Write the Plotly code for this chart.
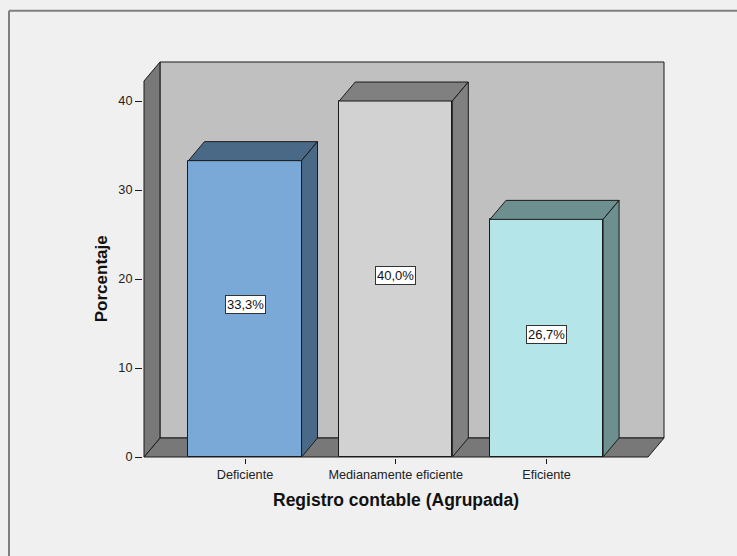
import plotly.graph_objects as go

# Data
categories = ["Deficiente", "Medianamente eficiente", "Eficiente"]
percentages = [33.3, 40.0, 26.7]
value_labels = ["33,3%", "40,0%", "26,7%"]
y_ticks = [0, 10, 20, 30, 40]

# Styling
front_colors = ["#7BA9D7", "#D2D2D2", "#B4E5E8"]
shade_colors = ["#4A6986", "#808080", "#6E8F8F"]
BG = "#F0F0F0"
WALL_BACK = "#C0C0C0"
WALL_DARK = "#787878"
EDGE = "#1A1A1A"
FONT = "Liberation Sans, Arial, sans-serif"

# Pseudo-3D geometry (data units)
x_pos = list(range(len(categories)))
BAR_W = 0.75
DX, DY = 0.106, 2.135          # depth offset of the box
X_LO, X_HI = -0.670, 2.673     # front edge of the floor
Y_WALL = 42.25                 # front top of the side wall
PAD_X, PAD_Y = 0.0066, 0.112

fig = go.Figure()

shapes = []
# back wall
shapes.append(dict(type="rect", xref="x", yref="y", layer="below",
                   x0=X_LO + DX, x1=X_HI + DX, y0=DY, y1=Y_WALL + DY,
                   fillcolor=WALL_BACK, line=dict(color=EDGE, width=1)))
# floor
shapes.append(dict(type="path", xref="x", yref="y", layer="below",
                   path=f"M{X_LO},0 L{X_HI},0 L{X_HI + DX},{DY} L{X_LO + DX},{DY} Z",
                   fillcolor=WALL_DARK, line=dict(color=EDGE, width=1)))
# left wall
shapes.append(dict(type="path", xref="x", yref="y", layer="below",
                   path=f"M{X_LO},0 L{X_LO + DX},{DY} L{X_LO + DX},{Y_WALL + DY} L{X_LO},{Y_WALL} Z",
                   fillcolor=WALL_DARK, line=dict(color=EDGE, width=1)))

# front faces
fig.add_trace(go.Bar(x=x_pos, y=percentages, width=BAR_W,
                     marker=dict(color=front_colors, line=dict(color=EDGE, width=1)),
                     hoverinfo="skip", showlegend=False))

# top and side faces of every bar
for xc, v, sc in zip(x_pos, percentages, shade_colors):
    l, r = xc - BAR_W / 2, xc + BAR_W / 2
    top_x = [l, r, r + DX, l + DX, l]
    top_y = [v, v, v + DY, v + DY, v]
    side_x = [r, r + DX, r + DX, r, r]
    side_y = [0, DY, v + DY, v, 0]
    for px, py in ((top_x, top_y), (side_x, side_y)):
        fig.add_trace(go.Scatter(x=px, y=py, mode="lines", fill="toself",
                                 fillcolor=sc, line=dict(color=EDGE, width=1),
                                 hoverinfo="skip", showlegend=False))

# value labels
annotations = []
for xc, v, t in zip(x_pos, percentages, value_labels):
    annotations.append(dict(x=xc, y=v / 2, xref="x", yref="y", text=t,
                            showarrow=False, yshift=4,
                            font=dict(family=FONT, size=13, color="#111"),
                            bgcolor="white", bordercolor="#333", borderwidth=1, borderpad=1))

# axis titles
annotations.append(dict(x=(X_LO + X_HI) / 2, y=-0.1058, xref="x", yref="paper",
                        text="<b>Registro contable (Agrupada)</b>", showarrow=False,
                        yanchor="middle", font=dict(family=FONT, size=17.5, color="#111")))
annotations.append(dict(x=-0.08, y=20, xref="paper", yref="y",
                        text="<b>Porcentaje</b>", showarrow=False, textangle=-90,
                        xanchor="center", yanchor="middle",
                        font=dict(family=FONT, size=17, color="#111")))

# outer chart frame (top and left edges)
shapes.append(dict(type="line", xref="paper", yref="paper",
                   x0=-0.2567, x1=1.2, y0=1.1265, y1=1.1265,
                   line=dict(color="#7F7F7F", width=2)))
shapes.append(dict(type="line", xref="paper", yref="paper",
                   x0=-0.2567, x1=-0.2567, y0=-0.3, y1=1.1265,
                   line=dict(color="#7F7F7F", width=2)))

fig.update_layout(
    width=737, height=556,
    margin=dict(l=143, r=72, t=61, b=98),
    paper_bgcolor=BG, plot_bgcolor=BG,
    shapes=shapes, annotations=annotations,
    bargap=0,
    font=dict(family=FONT, size=12, color="#222"),
    xaxis=dict(range=[X_LO - PAD_X, X_HI + DX + PAD_X], tickvals=x_pos, ticktext=categories,
               ticks="outside", ticklen=5, tickcolor=EDGE, showgrid=False, zeroline=False,
               showline=False, tickfont=dict(size=12.7, color="#222")),
    yaxis=dict(range=[-PAD_Y, Y_WALL + DY + PAD_Y], tickvals=y_ticks,
               ticks="outside", ticklen=7, tickcolor=EDGE, showgrid=False, zeroline=False,
               showline=False, tickfont=dict(size=12.7, color="#222")),
)

fig.write_html("out.html")
